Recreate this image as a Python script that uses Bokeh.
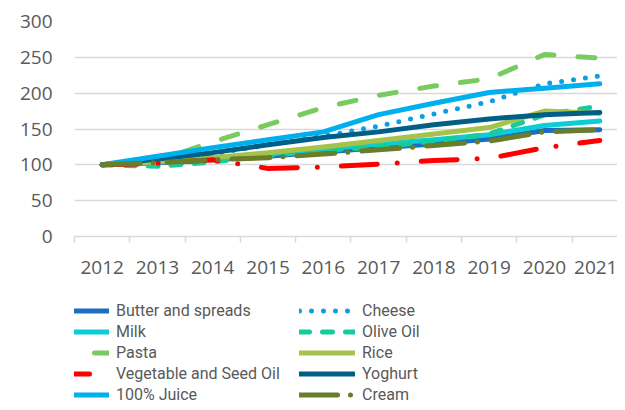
from bokeh.plotting import figure
from bokeh.models import FixedTicker, Legend, LegendItem, Range1d
from bokeh.layouts import column
from bokeh.embed import file_html
from bokeh.resources import INLINE

years = [2012, 2013, 2014, 2015, 2016, 2017, 2018, 2019, 2020, 2021]
year_labels = [str(y) for y in years]

butter = [100, 103, 107, 112, 118, 124, 129, 136, 148, 149]
cheese = [100, 107, 115, 128, 140, 154, 171, 188, 213, 224]
milk = [100, 104, 109, 115, 122, 129, 135, 142, 155, 161]
olive_oil = [100, 98, 104, 113, 120, 125, 133, 143, 170, 182]
pasta = [100, 106, 132, 156, 180, 197, 210, 220, 254, 249]
rice = [100, 104, 110, 117, 125, 134, 143, 152, 175, 172]
veg_oil = [100, 102, 107, 95, 97, 101, 106, 109, 124, 134]
yoghurt = [100, 108, 117, 128, 138, 146, 156, 164, 170, 173]
juice = [100, 112, 124, 135, 146, 170, 186, 201, 207, 213]
cream = [100, 103, 107, 110, 115, 121, 127, 133, 146, 149]

series = [
    ("Butter and spreads", butter, "#1B6EC2", "solid"),
    ("Cheese", cheese, "#0A9FE0", "0 12"),
    ("Milk", milk, "#0BCDD8", "solid"),
    ("Olive Oil", olive_oil, "#17CC9B", "10 13"),
    ("Pasta", pasta, "#7ACB5F", "17 24"),
    ("Rice", rice, "#A5C34A", "solid"),
    ("Vegetable and Seed Oil", veg_oil, "#FF0000", "36 20 0 24"),
    ("Yoghurt", yoghurt, "#005F84", "solid"),
    ("100% Juice", juice, "#00B0EE", "solid"),
    ("Cream", cream, "#697D2A", "38 13 0 14"),
]

FONT = "Roboto"
GREY = "#595959"

p = figure(frame_width=543, frame_height=215, output_backend="svg", toolbar_location=None,
           x_range=Range1d(2011.5, 2021.32), y_range=Range1d(0, 300),
           min_border_left=74, min_border_right=0, min_border_top=21,
           min_border_bottom=60)
p.outline_line_color = None
p.background_fill_color = "white"

for name, vals, color, dash in series:
    p.line(years, vals, line_color=color, line_width=5, line_dash=dash,
           line_cap="round", line_join="round")

# axes
p.xaxis.ticker = FixedTicker(ticks=years,
                             minor_ticks=[y + 0.5 for y in range(2011, 2022)])
p.xaxis.major_label_overrides = {y: l for y, l in zip(years, year_labels)}
p.xaxis.axis_line_color = "#D9D9D9"
p.xaxis.axis_line_width = 1.5
p.xaxis.major_tick_line_color = None
p.xaxis.minor_tick_line_color = "#D9D9D9"
p.xaxis.minor_tick_line_width = 1.5
p.xaxis.minor_tick_out = 6
p.xaxis.minor_tick_in = 0
p.xaxis.major_tick_out = 6
p.xaxis.major_tick_in = 0
p.xaxis.major_label_standoff = 18
p.xaxis.major_label_text_font = "Open Sans"
p.xaxis.major_label_text_font_size = "19px"
p.xaxis.major_label_text_color = GREY

p.yaxis.ticker = FixedTicker(ticks=[0, 50, 100, 150, 200, 250, 300])
p.yaxis.axis_line_color = None
p.yaxis.major_tick_line_color = None
p.yaxis.minor_tick_line_color = None
p.yaxis.major_tick_out = 0
p.yaxis.major_tick_in = 0
p.yaxis.major_label_standoff = 22
p.yaxis.major_label_text_font = "Open Sans"
p.yaxis.major_label_text_font_size = "19px"
p.yaxis.major_label_text_color = GREY

p.xgrid.grid_line_color = None
p.ygrid.grid_line_color = "#D9D9D9"
p.ygrid.grid_line_width = 1.5

# legend panel (separate figure below the chart, same series styles)
leg = figure(width=617, height=106, output_backend="svg", toolbar_location=None,
             x_range=Range1d(0, 1), y_range=Range1d(0, 1),
             x_axis_location=None, y_axis_location=None, min_border=0,
             min_border_left=74)
leg.outline_line_color = None
leg.xgrid.visible = False
leg.ygrid.visible = False

leg_renderers = {}
for name, vals, color, dash in series:
    leg_renderers[name] = leg.line(years, vals, line_color=color, line_width=5,
                                   line_dash=dash, line_cap="round", line_join="round")

order = ["Butter and spreads", "Milk", "Pasta", "Vegetable and Seed Oil", "100% Juice",
         "Cheese", "Olive Oil", "Rice", "Yoghurt", "Cream"]

legend = Legend(items=[LegendItem(label=n, renderers=[leg_renderers[n]]) for n in order],
                location=(-21, -3), orientation="vertical", nrows=5,
                glyph_width=56, glyph_height=21, label_height=21, label_width=183,
                spacing=0, padding=0, margin=0, label_standoff=7,
                border_line_color=None, background_fill_alpha=0,
                label_text_font=FONT, label_text_font_size="16px",
                label_text_color=GREY)
leg.add_layout(legend, "center")

layout = column(p, leg, spacing=0)
open("out.html", "w").write(file_html(layout, INLINE))
